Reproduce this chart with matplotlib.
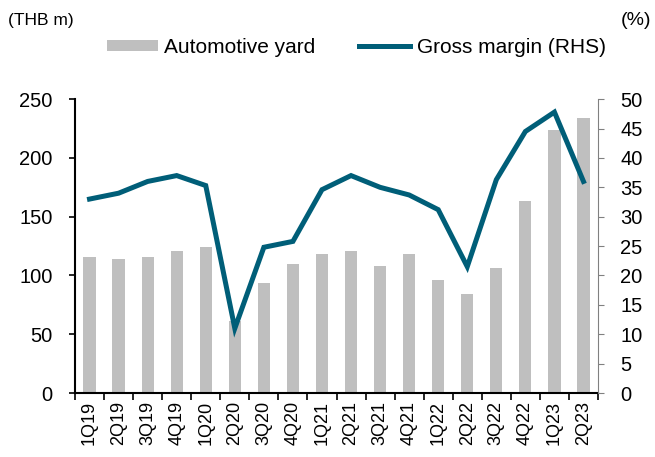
import numpy as np
import matplotlib
matplotlib.use("Agg")
from matplotlib import pyplot as plt

plt.rcParams['font.family'] = ['Liberation Sans', 'DejaVu Sans']

# Dados
trimestres = ["1Q19", "2Q19", "3Q19", "4Q19", "1Q20", "2Q20", "3Q20", "4Q20", "1Q21",
              "2Q21", "3Q21", "4Q21", "1Q22", "2Q22", "3Q22", "4Q22", "1Q23", "2Q23"]
automotive_yard = [116, 114, 116, 121, 124, 61, 94, 110, 118, 121, 108, 118, 96, 84, 106, 163, 224, 234]
gross_margin = [33.0, 34.0, 36.0, 37.0, 35.3, 11.0, 24.8, 25.8, 34.6, 37.0, 35.0, 33.7, 31.2, 21.5,
                36.3, 44.5, 47.8, 36.0]

cor_barra = "#bfbfbf"
cor_linha = "#005e78"

fig = plt.figure(figsize=(6.55, 4.57), dpi=100)
ax = fig.add_axes([0.1145, 0.140, 0.7985, 0.643])
ax2 = ax.twinx()

x = np.arange(len(trimestres))
ax.bar(x, automotive_yard, width=0.42, color=cor_barra, label="Automotive yard", zorder=1)
ax2.plot(x, gross_margin, color=cor_linha, linewidth=3.6, label="Gross margin (RHS)",
         solid_joinstyle='miter')

ax.set_xlim(-0.5, len(trimestres) - 0.5)
ax.set_ylim(0, 250)
ax.set_yticks(np.arange(0, 251, 50))
ax2.set_ylim(0, 50)
ax2.set_yticks(np.arange(0, 51, 5))

# ticks do eixo x entre as categorias
ax.set_xticks(x)
ax.set_xticklabels(trimestres, rotation=90, fontsize=13)
ax.set_xticks(np.arange(-0.5, len(trimestres), 1), minor=True)
ax.tick_params(axis='x', which='major', length=0, pad=6)
ax.tick_params(axis='x', which='minor', length=5, width=1.2, direction='out')

ax.tick_params(axis='y', labelsize=14.5, length=4, width=1.2, direction='out', pad=12)
ax2.tick_params(axis='y', labelsize=14.5, length=4, direction='out', color='#808080', pad=12)

for a in (ax, ax2):
    a.spines['top'].set_visible(False)
ax.spines['right'].set_visible(False)
ax2.spines['left'].set_visible(False)
ax2.spines['bottom'].set_visible(False)
ax2.spines['right'].set_color('#808080')
ax.spines['left'].set_linewidth(1.5)
ax.spines['bottom'].set_linewidth(1.5)

# Legenda
h1, l1 = ax.get_legend_handles_labels()
h2, l2 = ax2.get_legend_handles_labels()
fig.legend(h1 + h2, l1 + l2, loc='center', bbox_to_anchor=(0.544, 0.897), ncol=2,
           frameon=False, fontsize=15, handlelength=2.45, handleheight=0.45,
           handletextpad=0.3, columnspacing=2.1)

fig.text(0.012, 0.955, "(THB m)", fontsize=12.5, va='center', ha='left')
fig.text(0.995, 0.955, "(%)", fontsize=14, va='center', ha='right')

fig.savefig("out.png", dpi=100)
